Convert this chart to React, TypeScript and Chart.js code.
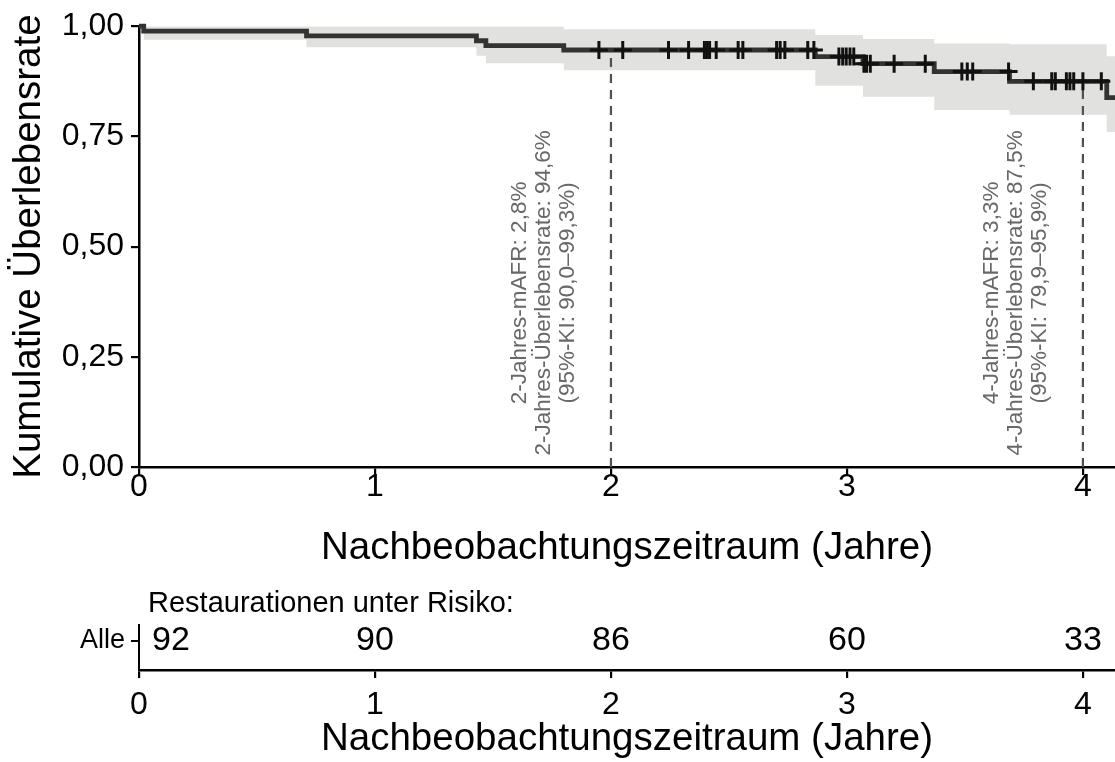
import React, { useEffect, useRef } from 'react';
import { Chart, registerables } from 'chart.js';

Chart.register(...registerables);

const FONT = "'Liberation Sans', Arial, Helvetica, sans-serif";

// Kaplan-Meier step times (years) and survival after each step
const stepTimes = [0, 0.02, 0.71, 1.43, 1.47, 1.8, 2.866, 3.068, 3.37, 3.689, 4.101, 4.136];
const survValues = [1.0, 0.989, 0.978, 0.967, 0.956, 0.946, 0.931, 0.915, 0.897, 0.875, 0.838, 0.838];
const ciLower = [1.0, 0.969, 0.952, 0.933, 0.916, 0.9, 0.865, 0.84, 0.81, 0.799, 0.76, 0.76];
const ciUpper = [1.0, 1.0, 1.0, 1.0, 1.0, 0.993, 0.98, 0.971, 0.961, 0.959, 0.932, 0.932];

// censored observations (years)
const censorTimes = [
  1.949, 2.05, 2.244, 2.329, 2.396, 2.407, 2.418, 2.446, 2.539, 2.559, 2.702, 2.717, 2.737,
  2.834, 2.86, 2.966, 2.982, 2.997, 3.013, 3.029, 3.072, 3.083, 3.099, 3.2, 3.332, 3.487,
  3.51, 3.533, 3.685, 3.79, 3.868, 3.883, 3.93, 3.945, 3.961, 4.0, 4.078,
];

const annotYears = [2, 4];
const annotLines2 = ['2-Jahres-mAFR: 2,8%', '2-Jahres-Überlebensrate: 94,6%', '(95%-KI: 90,0–99,3%)'];
const annotLines4 = ['4-Jahres-mAFR: 3,3%', '4-Jahres-Überlebensrate: 87,5%', '(95%-KI: 79,9–95,9%)'];
const annotCenterY = 0.395;

const xTicks = [0, 1, 2, 3, 4];
const yTicks = [0, 0.25, 0.5, 0.75, 1.0];
const xMax = 4.136;

const riskTimes = [0, 1, 2, 3, 4];
const riskCounts = [92, 90, 86, 60, 33];
const riskGroup = ['Alle'];
const riskRowY = [0.65];

function survivalAt(t: number): number {
  let s = survValues[0];
  for (let i = 0; i < stepTimes.length; i++) {
    if (stepTimes[i] <= t) s = survValues[i];
  }
  return s;
}

const fmtY = (v: number) => v.toFixed(2).replace('.', ',');

export default function App() {
  const mainRef = useRef<HTMLCanvasElement | null>(null);
  const riskRef = useRef<HTMLCanvasElement | null>(null);

  useEffect(() => {
    document.body.style.margin = '0';
    const annotPlugin = {
      id: 'annotText',
      afterDatasetsDraw(chart: any) {
        const ctx = chart.ctx;
        const xs = chart.scales.x;
        const ys = chart.scales.y;
        const groups = [annotLines2, annotLines4];
        const offsets = [-91, -67, -43];
        ctx.save();
        ctx.fillStyle = '#686868';
        ctx.font = `22.5px ${FONT}`;
        ctx.textAlign = 'center';
        ctx.textBaseline = 'middle';
        annotYears.forEach((yr, gi) => {
          const px = xs.getPixelForValue(yr);
          const py = ys.getPixelForValue(annotCenterY);
          groups[gi].forEach((line, li) => {
            ctx.save();
            ctx.translate(px + offsets[li], py);
            ctx.rotate(-Math.PI / 2);
            ctx.fillText(line, 0, 0);
            ctx.restore();
          });
        });
        ctx.restore();
      },
    };

    const main = new Chart(mainRef.current as HTMLCanvasElement, {
      type: 'line',
      data: {
        datasets: [
          {
            label: 'lower',
            data: stepTimes.map((t, i) => ({ x: t, y: ciLower[i] })),
            stepped: true,
            borderWidth: 0,
            pointRadius: 0,
            fill: false,
            order: 10,
          },
          {
            label: 'upper',
            data: stepTimes.map((t, i) => ({ x: t, y: ciUpper[i] })),
            stepped: true,
            borderWidth: 0,
            pointRadius: 0,
            fill: '-1',
            backgroundColor: '#e1e1df',
            order: 9,
          },
          ...annotYears.map((yr) => ({
            label: 'ref' + yr,
            data: [
              { x: yr, y: 0 },
              { x: yr, y: survivalAt(yr) },
            ],
            borderColor: '#505050',
            borderWidth: 2.2,
            borderDash: [9, 7],
            pointRadius: 0,
            fill: false,
            order: 5,
          })),
          {
            label: 'survival',
            data: stepTimes.map((t, i) => ({ x: t, y: survValues[i] })),
            stepped: true,
            borderColor: '#333333',
            borderWidth: 4.8,
            pointRadius: 0,
            fill: false,
            order: 2,
            clip: 8,
          },
          {
            label: 'censor',
            data: censorTimes.map((t) => ({ x: t, y: survivalAt(t) })),
            showLine: false,
            pointStyle: 'cross',
            pointRadius: 9,
            pointBorderWidth: 3,
            pointBorderColor: '#111111',
            pointBackgroundColor: '#111111',
            order: 1,
          },
        ] as any,
      },
      options: {
        responsive: false,
        animation: false,
        events: [],
        layout: { autoPadding: false, padding: { top: 22, right: 0, left: 0, bottom: 0 } },
        plugins: { legend: { display: false }, tooltip: { enabled: false } },
        elements: { line: { tension: 0 } },
        scales: {
          x: {
            type: 'linear',
            min: 0,
            max: xMax,
            afterBuildTicks: (scale: any) => {
              scale.ticks = xTicks.map((v) => ({ value: v }));
            },
            afterFit: (scale: any) => {
              scale.height = 108;
            },
            ticks: {
              font: { family: FONT, size: 32 },
              color: '#000',
              padding: -7,
              maxRotation: 0,
              autoSkip: false,
              callback: (v: any) => String(v),
            },
            grid: { drawOnChartArea: false, drawTicks: true, tickLength: 8, color: '#000', lineWidth: 2.2 },
            border: { display: true, color: '#000', width: 2.5 },
            title: {
              display: true,
              text: 'Nachbeobachtungszeitraum (Jahre)',
              font: { family: FONT, size: 38.5 },
              color: '#000',
              padding: { top: 4, bottom: 4 },
            },
          },
          y: {
            type: 'linear',
            min: 0,
            max: 1,
            afterBuildTicks: (scale: any) => {
              scale.ticks = yTicks.map((v) => ({ value: v }));
            },
            afterFit: (scale: any) => {
              scale.width = 139;
            },
            ticks: {
              font: { family: FONT, size: 32 },
              color: '#000',
              padding: 7,
              callback: (v: any) => fmtY(Number(v)),
            },
            grid: { drawOnChartArea: false, drawTicks: true, tickLength: 8, color: '#000', lineWidth: 2.2 },
            border: { display: true, color: '#000', width: 2.5 },
            title: {
              display: true,
              text: 'Kumulative Überlebensrate',
              font: { family: FONT, size: 38.5 },
              color: '#000',
              padding: { top: 6, bottom: 0 },
            },
          },
        },
      } as any,
      plugins: [annotPlugin],
    });

    const riskPlugin = {
      id: 'riskText',
      afterDatasetsDraw(chart: any) {
        const ctx = chart.ctx;
        const xs = chart.scales.x;
        const ys = chart.scales.y;
        const area = chart.chartArea;
        ctx.save();
        ctx.fillStyle = '#000';
        ctx.textBaseline = 'middle';
        ctx.font = `29px ${FONT}`;
        ctx.textAlign = 'left';
        ctx.fillText('Restaurationen unter Risiko:', area.left + 9, 29);
        ctx.font = `34px ${FONT}`;
        const py = ys.getPixelForValue(riskRowY[0]);
        riskTimes.forEach((t, i) => {
          const label = String(riskCounts[i]);
          const w = ctx.measureText(label).width;
          let px = xs.getPixelForValue(t);
          if (px - w / 2 < area.left + 4) px = area.left + 13 + w / 2;
          ctx.textAlign = 'center';
          ctx.fillText(label, px, py);
        });
        ctx.restore();
      },
    };

    const risk = new Chart(riskRef.current as HTMLCanvasElement, {
      type: 'line',
      data: {
        datasets: [
          {
            label: 'risk',
            data: riskTimes.map((t) => ({ x: t, y: riskRowY[0] })),
            showLine: false,
            pointRadius: 0,
          },
        ] as any,
      },
      options: {
        responsive: false,
        animation: false,
        events: [],
        layout: { autoPadding: false, padding: { top: 50, right: 0, left: 0, bottom: 0 } },
        plugins: { legend: { display: false }, tooltip: { enabled: false } },
        scales: {
          x: {
            type: 'linear',
            min: 0,
            max: xMax,
            afterBuildTicks: (scale: any) => {
              scale.ticks = xTicks.map((v) => ({ value: v }));
            },
            afterFit: (scale: any) => {
              scale.height = 92;
            },
            ticks: {
              font: { family: FONT, size: 32 },
              color: '#000',
              padding: 8,
              maxRotation: 0,
              autoSkip: false,
              callback: (v: any) => String(v),
            },
            grid: { drawOnChartArea: false, drawTicks: true, tickLength: 8, color: '#000', lineWidth: 2.2 },
            border: { display: true, color: '#000', width: 2.5 },
            title: {
              display: true,
              text: 'Nachbeobachtungszeitraum (Jahre)',
              font: { family: FONT, size: 38.5 },
              color: '#000',
              padding: { top: 2, bottom: 0 },
            },
          },
          y: {
            type: 'linear',
            min: 0,
            max: 1,
            afterBuildTicks: (scale: any) => {
              scale.ticks = riskRowY.map((v) => ({ value: v }));
            },
            afterFit: (scale: any) => {
              scale.width = 139;
            },
            ticks: {
              font: { family: FONT, size: 27 },
              color: '#000',
              padding: 6,
              callback: () => riskGroup[0],
            },
            grid: { drawOnChartArea: false, drawTicks: true, tickLength: 8, color: '#000', lineWidth: 2 },
            border: { display: true, color: '#000', width: 2 },
          },
        },
      } as any,
      plugins: [riskPlugin],
    });

    return () => {
      main.destroy();
      risk.destroy();
    };
  }, []);

  return (
    <div style={{ position: 'absolute', left: 0, top: 0, width: 1115, height: 762, background: '#fff' }}>
      <canvas ref={mainRef} width={1115} height={575} style={{ position: 'absolute', left: 0, top: 0, width: 1115, height: 575 }} />
      <canvas ref={riskRef} width={1115} height={187} style={{ position: 'absolute', left: 0, top: 575, width: 1115, height: 187 }} />
    </div>
  );
}
